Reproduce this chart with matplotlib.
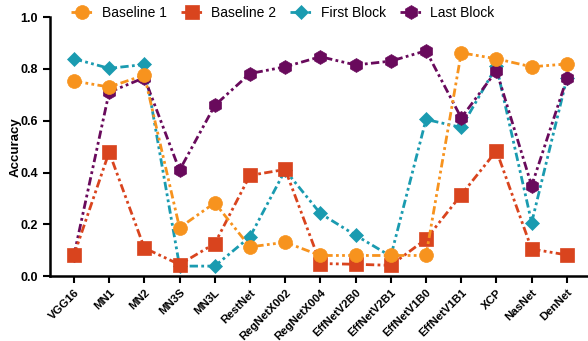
import numpy as np
import matplotlib.pyplot as plt

plt.rcParams['font.family'] = ['Liberation Sans', 'DejaVu Sans']

models = ['VGG16', 'MN1', 'MN2', 'MN3S', 'MN3L', 'RestNet', 'RegNetX002',
          'RegNetX004', 'EffNetV2B0', 'EffNetV2B1', 'EffNetV1B0', 'EffNetV1B1',
          'XCP', 'NasNet', 'DenNet']

baseline1 = [0.753, 0.730, 0.776, 0.187, 0.283, 0.113, 0.131, 0.080, 0.080,
             0.080, 0.080, 0.862, 0.839, 0.808, 0.819]
baseline2 = [0.081, 0.479, 0.109, 0.045, 0.126, 0.389, 0.412, 0.049, 0.046,
             0.042, 0.143, 0.314, 0.484, 0.105, 0.082]
first_block = [0.839, 0.802, 0.817, 0.039, 0.039, 0.152, 0.409, 0.242, 0.158,
               0.077, 0.605, 0.574, 0.810, 0.207, 0.764]
last_block = [0.080, 0.710, 0.766, 0.409, 0.659, 0.782, 0.808, 0.847, 0.815,
              0.830, 0.870, 0.611, 0.793, 0.349, 0.763]

x = np.arange(len(models))
dashdotdot = (0, (3, 1.2, 1, 1.2, 1, 1.2))

fig = plt.figure(figsize=(5.88, 3.41), dpi=100)
ax = fig.add_axes([0.085, 0.19, 0.915, 0.76])

series = [
    ('Baseline 1', baseline1, '#F7931E', 'o', 10, 5),
    ('Baseline 2', baseline2, '#D9441E', 's', 9.5, 4),
    ('First Block', first_block, '#1A9BB0', 'D', 7.5, 2),
    ('Last Block', last_block, '#690A5C', 'h', 10, 3),
]
for label, vals, color, marker, ms, z in series:
    ax.plot(x, vals, linestyle=dashdotdot, linewidth=2, color=color,
            marker=marker, markersize=ms, markeredgecolor=color,
            markeredgewidth=0.5, label=label, zorder=z)

ax.set_xlim(-0.68, 14.6)
ax.set_ylim(0, 1.0)
ax.set_yticks([0.0, 0.2, 0.4, 0.6, 0.8, 1.0])
ax.set_yticklabels(['0.0', '0.2', '0.4', '0.6', '0.8', '1.0'],
                   fontweight='bold', fontsize=9)
ax.set_xticks(x)
ax.set_xticklabels(models, rotation=45, ha='right', rotation_mode='anchor',
                   fontweight='bold', fontsize=8.2)
ax.set_ylabel('Accuracy', fontweight='bold', fontsize=9.5)
ax.yaxis.set_label_coords(-0.053, 0.5)

for side in ['top', 'right']:
    ax.spines[side].set_visible(False)
for side in ['left', 'bottom']:
    ax.spines[side].set_linewidth(1.8)
ax.tick_params(width=1.5, length=5)
ax.tick_params(axis='x', pad=3)

fig.legend(loc='upper left', bbox_to_anchor=(0.1, 1.02), ncol=4,
           frameon=False, fontsize=10, handlelength=1.6, handletextpad=0.6,
           columnspacing=1.0)

fig.savefig('out.png', dpi=100)
